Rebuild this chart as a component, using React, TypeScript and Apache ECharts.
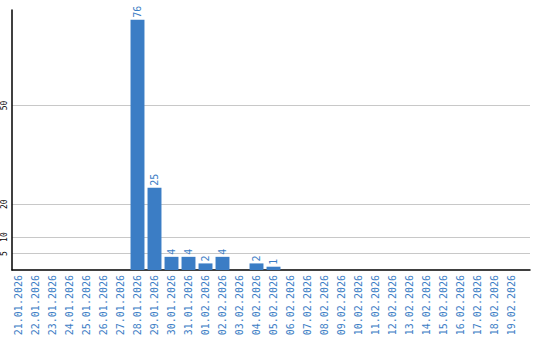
import React, { useEffect, useRef } from "react";
import * as echarts from "echarts";

const categories = [
  "21.01.2026", "22.01.2026", "23.01.2026", "24.01.2026", "25.01.2026",
  "26.01.2026", "27.01.2026", "28.01.2026", "29.01.2026", "30.01.2026",
  "31.01.2026", "01.02.2026", "02.02.2026", "03.02.2026", "04.02.2026",
  "05.02.2026", "06.02.2026", "07.02.2026", "08.02.2026", "09.02.2026",
  "10.02.2026", "11.02.2026", "12.02.2026", "13.02.2026", "14.02.2026",
  "15.02.2026", "16.02.2026", "17.02.2026", "18.02.2026", "19.02.2026",
];

const values: (number | null)[] = [
  null, null, null, null, null,
  null, null, 76, 25, 4,
  4, 2, 4, null, 2,
  1, null, null, null, null,
  null, null, null, null, null,
  null, null, null, null, null,
];

const yTicks = [5, 10, 20, 50];
const yMax = 79;

const BLUE = "#3b7dc5";
const MONO = "'DejaVu Sans Mono', monospace";

export default function App() {
  const ref = useRef<HTMLDivElement>(null);
  useEffect(() => {
    if (!ref.current) return;
    const chart = echarts.init(ref.current, null, { renderer: "svg" });
    chart.setOption({
      animation: false,
      backgroundColor: "#fff",
      grid: [
        { left: 10, width: 510, top: 10, height: 260 },
        { left: 10, width: 520, top: 10, height: 260 },
      ],
      xAxis: [
        {
          type: "category",
          gridIndex: 0,
          data: categories,
          axisLine: { show: false },
          axisTick: { show: false },
          axisLabel: {
            rotate: 90,
            interval: 0,
            margin: 5,
            color: BLUE,
            fontFamily: MONO,
            fontSize: 10,
          },
          splitLine: { show: false },
        },
        {
          type: "value",
          gridIndex: 1,
          min: 0,
          max: 1,
          axisLine: { show: true, lineStyle: { color: "#000", width: 1.5 } },
          axisTick: { show: false },
          axisLabel: { show: false },
          splitLine: { show: false },
        },
      ],
      yAxis: [
        {
          type: "value",
          gridIndex: 0,
          min: 0,
          max: yMax,
          show: false,
          splitLine: { show: false },
        },
        {
          type: "value",
          gridIndex: 1,
          min: 0,
          max: yMax,
          axisLine: { show: true, lineStyle: { color: "#000", width: 1.5 } },
          axisTick: { show: false, customValues: yTicks },
          axisLabel: {
            customValues: yTicks,
            rotate: 90,
            margin: 4,
            color: "#000",
            fontFamily: MONO,
            fontSize: 8,
          },
          splitLine: { show: true, lineStyle: { color: "#c8c8c8", width: 1 } },
        },
      ],
      series: [
        {
          type: "bar",
          xAxisIndex: 0,
          yAxisIndex: 0,
          data: values,
          barCategoryGap: "18%",
          itemStyle: { color: BLUE },
          label: {
            show: true,
            position: "top",
            rotate: 90,
            align: "left",
            verticalAlign: "middle",
            distance: 2,
            color: BLUE,
            fontFamily: MONO,
            fontSize: 10,
          },
        },
      ],
    });
    return () => chart.dispose();
  }, []);
  return <div ref={ref} style={{ width: 540, height: 340, position: "absolute", left: 0, top: 0 }} />;
}
